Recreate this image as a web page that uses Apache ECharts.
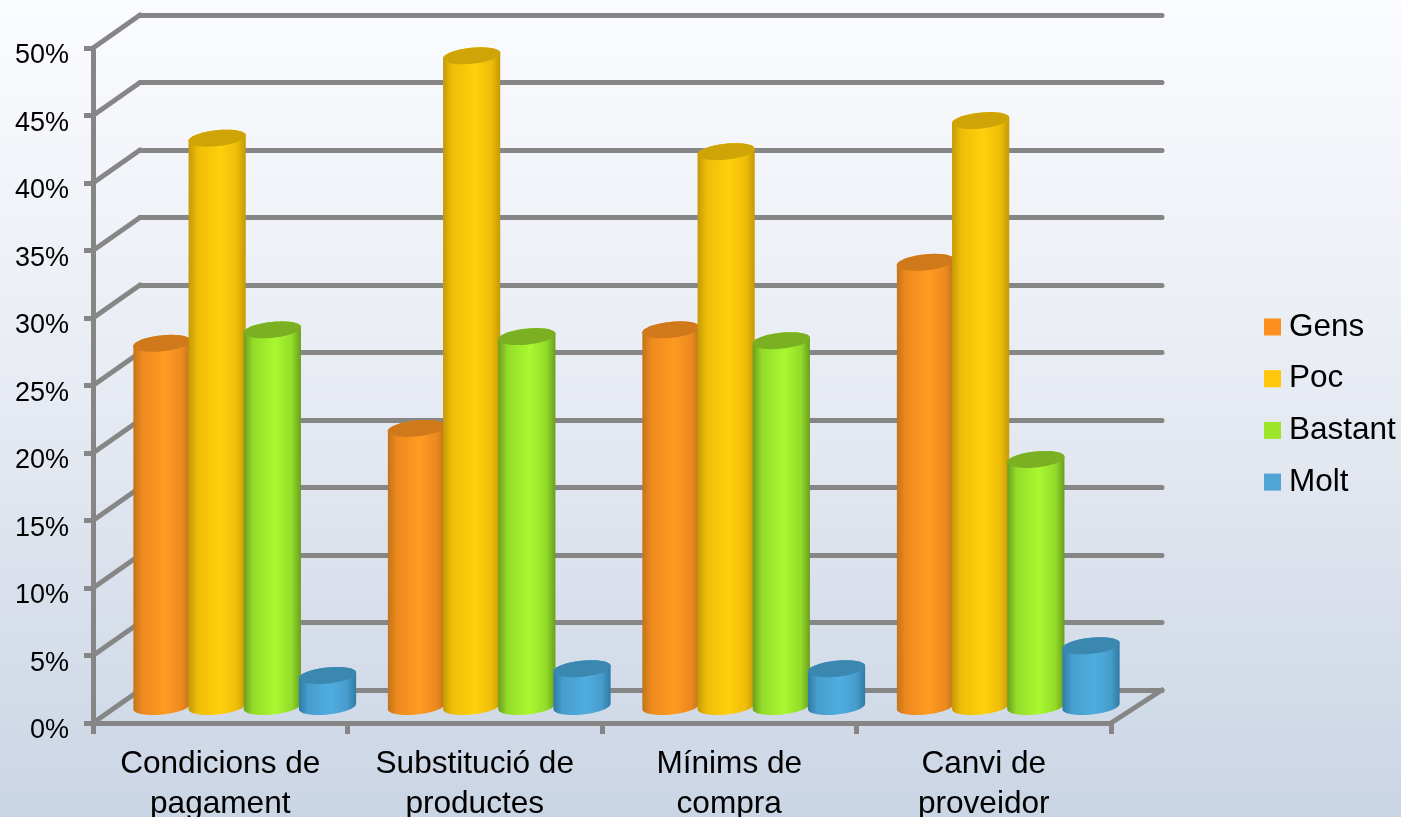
<!DOCTYPE html>
<html><head><meta charset="utf-8">
<style>html,body{margin:0;padding:0;background:#fff}#c{width:1401px;height:817px}</style>
<script src="https://cdn.jsdelivr.net/npm/echarts@6/dist/echarts.min.js"></script>
</head><body><div id="c"></div>
<script>
var categories = ['Condicions de\npagament','Substitució de\nproductes','Mínims de\ncompra','Canvi de\nproveidor'];
var gens    = [26.9, 20.6, 27.9, 32.9];
var poc     = [42.1, 48.2, 41.1, 43.4];
var bastant = [27.9, 27.4, 27.1, 18.3];
var molt    = [2.3, 2.8, 2.8, 4.5];
var seriesNames = ['Gens','Poc','Bastant','Molt'];
var ticks = [0,5,10,15,20,25,30,35,40,45,50];

var GRAY = '#868686', FONT = '"Liberation Sans", Arial, sans-serif';
var DEPTH = {x: 47, y: -33};
var BAR = {width: 57.5, step: 55.2, b: 8, tilt: -6 * Math.PI / 180, dx: 24.5, dy: -16.5};
var palette = [
  {legend:'#fd8f1e', edge:'#c2741a', mid:'#ee8a1e', bright:'#ff9a22', top:'#d0791a'},
  {legend:'#ffc60a', edge:'#c49a06', mid:'#efbd08', bright:'#ffd00c', top:'#cfa406'},
  {legend:'#9de528', edge:'#6b9e1e', mid:'#93dc2a', bright:'#a9f830', top:'#7bb022'},
  {legend:'#4fa6d6', edge:'#2f7ba6', mid:'#479dcc', bright:'#50ade0', top:'#3a87b0'}
];

function ellipsePts(cx, cy, from, to, n) {
  var a = BAR.width / 2, pts = [];
  for (var k = 0; k <= n; k++) {
    var t = from + (to - from) * k / n;
    pts.push([
      cx + a * Math.cos(t) * Math.cos(BAR.tilt) - BAR.b * Math.sin(t) * Math.sin(BAR.tilt),
      cy + a * Math.cos(t) * Math.sin(BAR.tilt) + BAR.b * Math.sin(t) * Math.cos(BAR.tilt)
    ]);
  }
  return pts;
}
function cylinder(si) {
  var c = palette[si];
  return function (params, api) {
    var top = api.coord([api.value(0), api.value(1)]);
    var base = api.coord([api.value(0), 0]);
    var cx = top[0] + BAR.dx + (si - 1.5) * BAR.step;
    var yTop = top[1] + BAR.dy, yBase = base[1] + BAR.dy;
    var body = ellipsePts(cx, yBase, 0, Math.PI, 32).concat(ellipsePts(cx, yTop, Math.PI, 2 * Math.PI, 32));
    return {type: 'group', children: [
      {type: 'polygon', shape: {points: body}, silent: true, style: {
        fill: new echarts.graphic.LinearGradient(0, 0, 1, 0, [
          {offset: 0, color: c.edge}, {offset: 0.16, color: c.mid},
          {offset: 0.55, color: c.bright}, {offset: 0.84, color: c.mid}, {offset: 1, color: c.edge}
        ])
      }},
      {type: 'polygon', shape: {points: ellipsePts(cx, yTop, 0, 2 * Math.PI, 48)}, silent: true, style: {fill: c.top}}
    ]};
  };
}
function row(values) { return values.map(function (v, i) { return [i, v]; }); }
var allValues = [gens, poc, bastant, molt];

var series = [{
  type: 'custom', xAxisIndex: 0, yAxisIndex: 0, silent: true, clip: false, z: 1,
  data: ticks.map(function (t) { return [0, t]; }),
  encode: {x: 0, y: 1},
  renderItem: function (params, api) {
    var y = api.coord([0, api.value(1)])[1], cs = params.coordSys;
    var lines = [{type: 'line', shape: {x1: cs.x, y1: y, x2: cs.x + DEPTH.x, y2: y + DEPTH.y},
      style: {stroke: GRAY, lineWidth: 5, lineCap: 'round'}}];
    if (api.value(1) === 0) {
      lines.push({type: 'line', shape: {x1: cs.x + cs.width, y1: y, x2: cs.x + cs.width + 51, y2: y + DEPTH.y},
        style: {stroke: GRAY, lineWidth: 5, lineCap: 'round'}});
    }
    return {type: 'group', children: lines};
  }
}].concat(allValues.map(function (vals, si) {
  return {
    name: seriesNames[si], type: 'custom', xAxisIndex: 0, yAxisIndex: 0, z: 2 + si, clip: false,
    itemStyle: {color: palette[si].legend},
    data: row(vals), encode: {x: 0, y: 1}, renderItem: cylinder(si)
  };
}));

var chart = echarts.init(document.getElementById('c'), null, {renderer: 'canvas'});
chart.setOption({
  animation: false,
  backgroundColor: new echarts.graphic.LinearGradient(0, 0, 0, 1, [
    {offset: 0, color: '#fbfcff'}, {offset: 0.5, color: '#e6eaf2'}, {offset: 1, color: '#cad5e4'}
  ]),
  legend: {
    orient: 'vertical', left: 1264, top: 309, padding: 0, itemWidth: 17, itemHeight: 17, itemGap: 15.7,
    selectedMode: false, icon: 'rect', data: seriesNames, itemStyle: {borderWidth: 0},
    textStyle: {fontFamily: FONT, fontSize: 31.5, color: '#000', lineHeight: 36, padding: [0, 0, 0, 3]}
  },
  grid: [
    {left: 93, right: 290, top: 48, bottom: 94, outerBoundsMode: 'none'},
    {left: 140, right: 239, top: 15, bottom: 127, outerBoundsMode: 'none'}
  ],
  xAxis: [
    {type: 'category', gridIndex: 0, data: categories,
     axisLine: {lineStyle: {color: GRAY, width: 5}},
     axisTick: {show: true, length: 11, lineStyle: {color: GRAY, width: 5}},
     axisLabel: {interval: 0, margin: 21, fontFamily: FONT, fontSize: 31.6, color: '#000', lineHeight: 40}},
    {type: 'value', gridIndex: 1, min: 0, max: 1, show: false}
  ],
  yAxis: [
    {type: 'value', gridIndex: 0, min: 0, max: 50, interval: 5,
     axisLine: {show: true, lineStyle: {color: GRAY, width: 5}},
     axisTick: {show: true, length: 9, lineStyle: {color: GRAY, width: 5}},
     splitLine: {show: false},
     axisLabel: {formatter: '{value}%', margin: 24, fontFamily: FONT, fontSize: 27, color: '#000', verticalAlign: 'top', lineHeight: 16}},
    {type: 'value', gridIndex: 1, min: 0, max: 50, interval: 5,
     axisLine: {show: false}, axisTick: {show: false}, axisLabel: {show: false},
     splitLine: {show: true, lineStyle: {color: GRAY, width: 5, cap: 'round'}}}
  ],
  series: series
});
</script></body></html>
